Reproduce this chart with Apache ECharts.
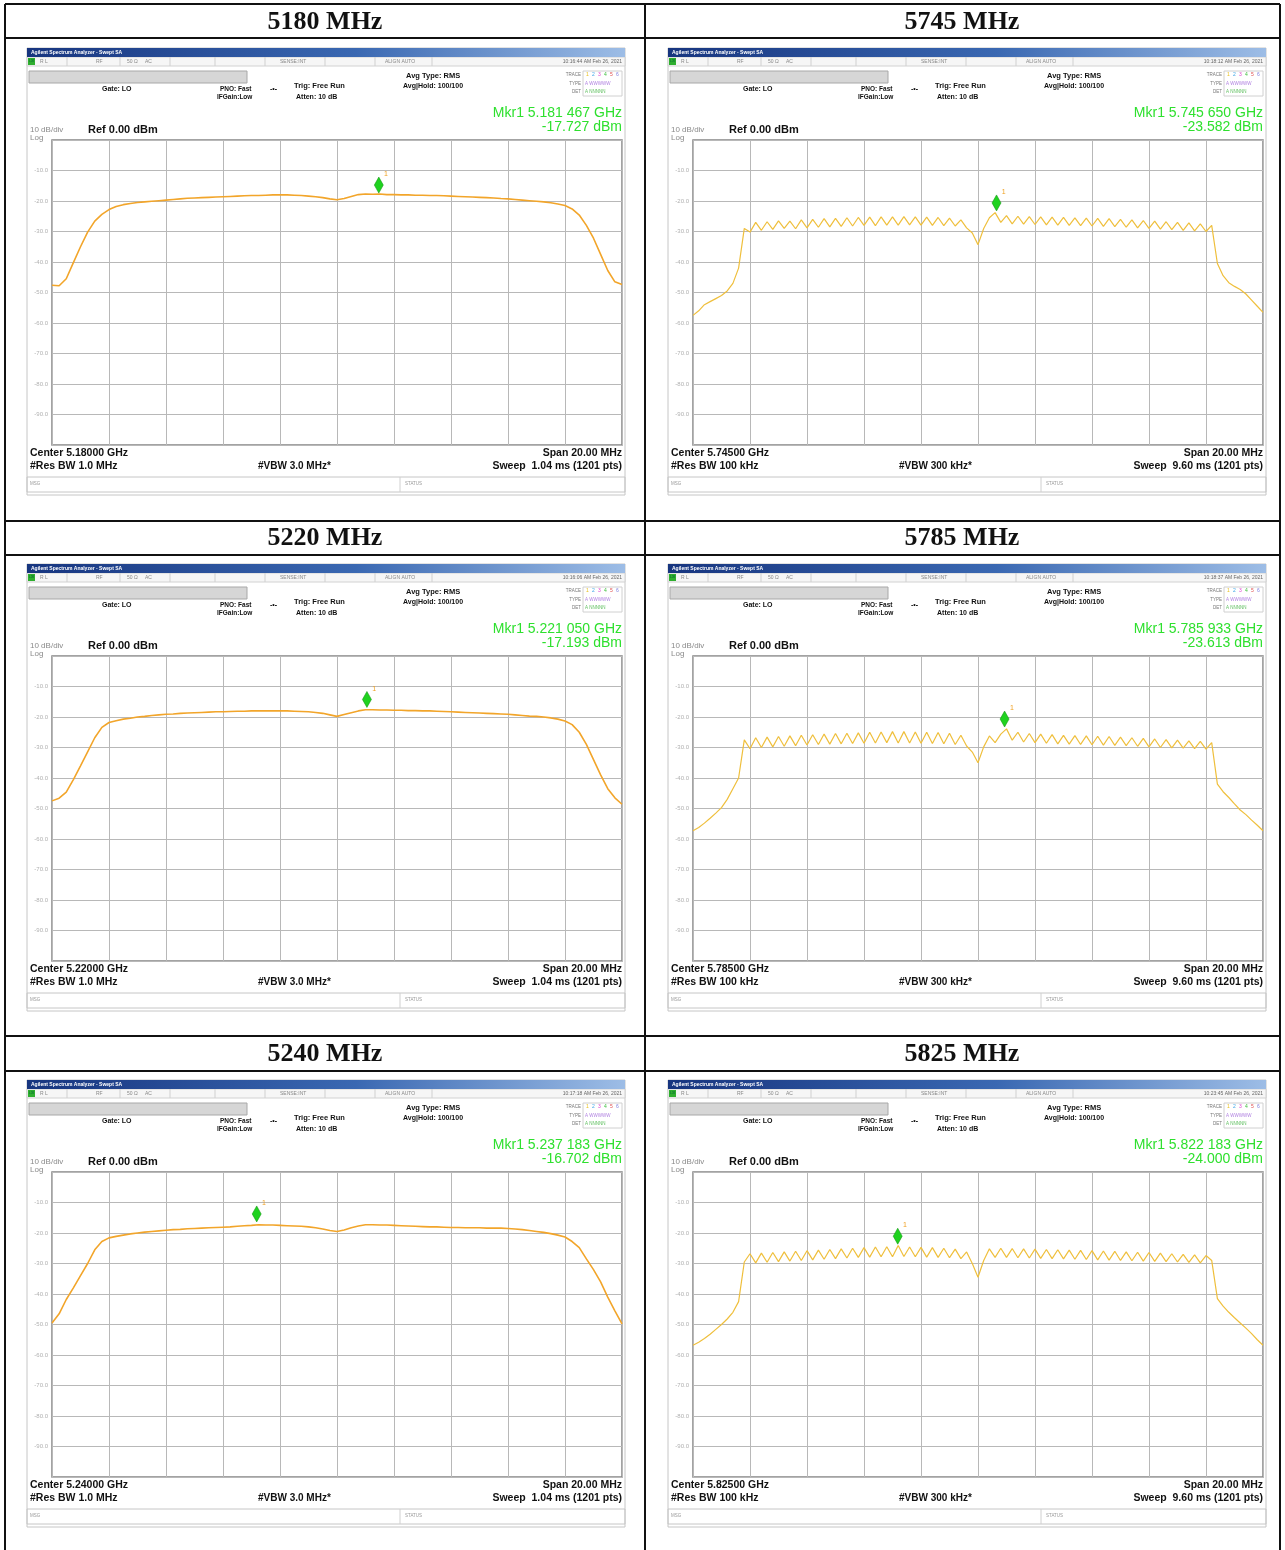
<!DOCTYPE html>
<html>
<head>
<meta charset="utf-8">
<script src="https://cdn.jsdelivr.net/npm/echarts@6.0.0/dist/echarts.min.js"></script>
<style>
html, body { margin: 0; padding: 0; background: #fff; }
#chart { width: 1285px; height: 1550px; }
</style>
</head>
<body>
<div id="chart"></div>
<script>
// sweep offsets from centre frequency, MHz
var freqSmooth = [-10, -9.75, -9.5, -9.25, -9, -8.75, -8.5, -8.25, -8, -7.75,
    -7.5, -7.25, -7, -6.75, -6.5, -6.25, -6, -5.75, -5.5, -5.25,
    -5, -4.75, -4.5, -4.25, -4, -3.75, -3.5, -3.25, -3, -2.75,
    -2.5, -2.25, -2, -1.75, -1.5, -1.25, -1, -0.75, -0.5, -0.25,
    0, 0.25, 0.5, 0.75, 1, 1.25, 1.5, 1.75, 2, 2.25,
    2.5, 2.75, 3, 3.25, 3.5, 3.75, 4, 4.25, 4.5, 4.75,
    5, 5.25, 5.5, 5.75, 6, 6.25, 6.5, 6.75, 7, 7.25,
    7.5, 7.75, 8, 8.25, 8.5, 8.75, 9, 9.25, 9.5, 9.75,
    10]

var freqRipple = [-10, -9.8, -9.6, -9.4, -9.2, -9, -8.8, -8.6, -8.4, -8.2,
    -8, -7.8, -7.6, -7.4, -7.2, -7, -6.8, -6.6, -6.4, -6.2,
    -6, -5.8, -5.6, -5.4, -5.2, -5, -4.8, -4.6, -4.4, -4.2,
    -4, -3.8, -3.6, -3.4, -3.2, -3, -2.8, -2.6, -2.4, -2.2,
    -2, -1.8, -1.6, -1.4, -1.2, -1, -0.8, -0.6, -0.4, -0.2,
    0, 0.2, 0.4, 0.6, 0.8, 1, 1.2, 1.4, 1.6, 1.8,
    2, 2.2, 2.4, 2.6, 2.8, 3, 3.2, 3.4, 3.6, 3.8,
    4, 4.2, 4.4, 4.6, 4.8, 5, 5.2, 5.4, 5.6, 5.8,
    6, 6.2, 6.4, 6.6, 6.8, 7, 7.2, 7.4, 7.6, 7.8,
    8, 8.2, 8.4, 8.6, 8.8, 9, 9.2, 9.4, 9.6, 9.8,
    10]

// traces, dBm
var trace5180 = [-47.6, -47.8, -45.5, -40.2, -35.0, -30.2, -26.6, -24.4, -22.8, -21.8,
    -21.2, -20.8, -20.5, -20.3, -20.1, -19.9, -19.7, -19.5, -19.3, -19.1,
    -19.0, -18.9, -18.8, -18.7, -18.6, -18.5, -18.4, -18.3, -18.2, -18.2,
    -18.1, -18.0, -18.0, -18.0, -18.1, -18.2, -18.4, -18.6, -18.9, -19.3,
    -19.6, -19.2, -18.5, -17.9, -17.7, -17.8, -17.7, -17.9, -17.9, -18.0,
    -18.0, -18.1, -18.1, -18.2, -18.2, -18.3, -18.4, -18.5, -18.6, -18.7,
    -18.8, -18.9, -19.0, -19.2, -19.3, -19.5, -19.7, -19.9, -20.1, -20.3,
    -20.6, -21.0, -21.5, -22.6, -24.6, -28.0, -32.2, -37.5, -42.8, -46.5,
    -47.4]

var trace5220 = [-47.5, -46.6, -44.6, -40.5, -36.0, -31.4, -26.8, -23.4, -21.8, -21.2,
    -20.7, -20.4, -20.0, -19.8, -19.5, -19.3, -19.1, -19.0, -18.8, -18.7,
    -18.6, -18.5, -18.4, -18.3, -18.3, -18.2, -18.1, -18.1, -18.0, -18.0,
    -18.0, -18.0, -18.0, -18.0, -18.1, -18.2, -18.3, -18.5, -18.8, -19.3,
    -19.8, -19.2, -18.6, -18.0, -17.6, -17.6, -17.7, -17.7, -17.8, -17.8,
    -17.9, -17.9, -18.0, -18.0, -18.1, -18.2, -18.3, -18.4, -18.5, -18.6,
    -18.7, -18.8, -18.9, -19.0, -19.1, -19.3, -19.5, -19.7, -19.8, -20.0,
    -20.3, -20.7, -21.3, -22.5, -25.0, -29.0, -34.0, -39.0, -43.5, -46.5,
    -48.6]

var trace5240 = [-49.5, -46.5, -41.8, -38.0, -34.0, -30.0, -25.5, -22.8, -21.6, -21.1,
    -20.7, -20.3, -20.0, -19.7, -19.5, -19.3, -19.1, -18.9, -18.8, -18.6,
    -18.5, -18.4, -18.3, -18.2, -18.1, -18.0, -17.8, -17.6, -17.5, -17.3,
    -17.4, -17.4, -17.5, -17.6, -17.7, -17.8, -18.0, -18.3, -18.7, -19.2,
    -19.5, -19.0, -18.3, -17.7, -17.3, -17.3, -17.4, -17.4, -17.5, -17.6,
    -17.7, -17.8, -17.9, -18.0, -18.0, -18.1, -18.2, -18.2, -18.3, -18.3,
    -18.3, -18.4, -18.4, -18.4, -18.5, -18.7, -18.9, -19.2, -19.5, -19.8,
    -20.2, -20.7, -21.3, -22.8, -24.8, -28.5, -32.0, -36.0, -41.0, -45.5,
    -49.8]

var trace5745 = [-57.5, -56.0, -54.0, -53.0, -52.0, -51.0, -49.5, -47.0, -42.0, -29.0,
    -30.2, -27.0, -29.6, -26.8, -29.3, -26.5, -29.0, -26.6, -29.1, -26.2,
    -28.8, -26.0, -28.6, -25.8, -28.5, -25.7, -28.3, -25.5, -28.2, -25.4,
    -28.0, -25.3, -28.1, -25.2, -27.9, -25.2, -27.9, -25.1, -27.8, -25.2,
    -27.9, -25.3, -28.0, -25.4, -28.1, -25.6, -28.2, -26.2, -28.8, -30.5,
    -34.3, -29.0, -25.5, -23.8, -27.0, -24.8, -27.5, -25.0, -27.6, -25.1,
    -27.7, -25.2, -27.8, -25.3, -27.9, -25.4, -28.0, -25.5, -28.1, -25.6,
    -28.2, -25.7, -28.3, -25.8, -28.4, -26.0, -28.6, -26.2, -28.8, -26.4,
    -29.0, -26.6, -29.2, -26.8, -29.4, -27.0, -29.6, -27.2, -29.8, -27.5,
    -30.0, -28.0, -40.5, -44.5, -46.8, -48.0, -49.0, -50.5, -52.5, -54.5,
    -56.5]

var trace5785 = [-57.3, -56.2, -54.8, -53.2, -51.5, -49.7, -47.0, -43.5, -40.0, -27.5,
    -30.4, -26.8, -30.0, -26.6, -29.8, -26.4, -29.6, -26.2, -29.4, -26.0,
    -29.2, -25.8, -29.0, -25.6, -28.9, -25.4, -28.8, -25.3, -28.7, -25.2,
    -28.6, -25.0, -28.5, -24.9, -28.4, -24.8, -28.5, -24.8, -28.5, -24.9,
    -28.6, -25.0, -28.7, -25.1, -28.8, -25.3, -29.0, -26.0, -29.5, -31.5,
    -35.0, -29.8, -26.2, -28.4, -25.6, -23.9, -27.6, -25.0, -28.2, -25.4,
    -28.4, -25.6, -28.6, -25.8, -28.8, -26.0, -28.9, -26.1, -29.0, -26.2,
    -29.1, -26.3, -29.2, -26.4, -29.3, -26.6, -29.4, -26.8, -29.6, -27.0,
    -29.8, -27.2, -30.0, -27.4, -30.1, -27.6, -30.2, -27.8, -30.4, -28.0,
    -30.5, -28.4, -42.0, -44.5, -46.4, -48.5, -50.5, -52.0, -53.8, -55.5,
    -57.3]

var trace5825 = [-56.8, -55.8, -54.6, -53.2, -51.6, -50.0, -48.2, -46.0, -42.5, -29.5,
    -26.8, -29.8, -26.6, -29.6, -26.4, -29.4, -26.2, -29.2, -26.0, -29.0,
    -25.8, -28.8, -25.6, -28.6, -25.4, -28.4, -25.2, -28.2, -25.0, -28.0,
    -24.8, -27.9, -24.6, -27.8, -24.5, -27.8, -24.1, -27.7, -24.6, -27.8,
    -24.7, -27.9, -24.8, -28.0, -25.0, -28.1, -25.3, -28.4, -26.2, -30.0,
    -34.5, -29.0, -25.2, -28.0, -25.0, -28.0, -25.1, -28.1, -25.2, -28.2,
    -25.3, -28.3, -25.4, -28.4, -25.5, -28.5, -25.6, -28.6, -25.7, -28.7,
    -25.8, -28.8, -25.9, -28.9, -26.0, -29.0, -26.2, -29.1, -26.3, -29.2,
    -26.4, -29.3, -26.6, -29.4, -26.8, -29.5, -27.0, -29.6, -27.2, -29.8,
    -27.4, -29.0, -41.5, -44.0, -46.0, -47.8, -49.5, -51.2, -53.0, -55.0,
    -56.8]

// marker 1 of each plot: offset from centre (MHz) and level (dBm)
var markerOffset = [1.467, 0.650, 1.050, 0.933, -2.817, -2.817]
var markerLevel = [-17.727, -23.582, -17.193, -23.613, -16.702, -24.000]

var titles = ['5180 MHz', '5745 MHz', '5220 MHz', '5785 MHz', '5240 MHz', '5825 MHz']
var mkrFreqText = ['5.181 467 GHz', '5.745 650 GHz', '5.221 050 GHz', '5.785 933 GHz', '5.237 183 GHz', '5.822 183 GHz']
var centerText = ['5.18000 GHz', '5.74500 GHz', '5.22000 GHz', '5.78500 GHz', '5.24000 GHz', '5.82500 GHz']
var clockText = ['10:16:44 AM Feb 26, 2021', '10:18:12 AM Feb 26, 2021', '10:16:06 AM Feb 26, 2021',
    '10:18:37 AM Feb 26, 2021', '10:17:18 AM Feb 26, 2021', '10:23:45 AM Feb 26, 2021']

var traces = [trace5180, trace5745, trace5220, trace5785, trace5240, trace5825]
var freqs = [freqSmooth, freqRipple, freqSmooth, freqRipple, freqSmooth, freqRipple]

var colDx = [0, 641]
var rowDy = [0, 516, 1032]
var colCenter = [325, 962]

var chart = echarts.init(document.getElementById('chart'))

function txt(x, y, s, o) {
    o = o || {}
    return {
        type: 'text', silent: true, z: 10,
        style: {
            x: x, y: y, text: s,
            fill: o.color || '#111',
            fontSize: o.size || 8,
            fontWeight: o.bold ? 'bold' : 'normal',
            fontFamily: o.family || '"Liberation Sans", Arial, sans-serif',
            align: o.align || 'left', textAlign: o.align || 'left',
            verticalAlign: 'middle', textVerticalAlign: 'middle'
        }
    }
}

function box(x, y, w, h, fill, stroke) {
    return {
        type: 'rect', silent: true, z: 1,
        shape: { x: x, y: y, width: w, height: h },
        style: { fill: fill || 'none', stroke: stroke || 'none', lineWidth: 1 }
    }
}

function seg(x1, y1, x2, y2, color, w) {
    return {
        type: 'line', silent: true, z: 5,
        shape: { x1: x1, y1: y1, x2: x2, y2: y2 },
        style: { stroke: color, lineWidth: w }
    }
}

// analyser screen furniture around each plot
function chrome(i, dx, dy) {
    var wide = i % 2 === 0
    var g = []
    var X = function (x) { return x + dx }
    var Y = function (y) { return y + dy }
    g.push(box(X(27), Y(48), 598, 447, null, '#c6c6c6'))
    g.push({
        type: 'rect', silent: true, z: 2,
        shape: { x: X(27), y: Y(48), width: 598, height: 9 },
        style: {
            fill: new echarts.graphic.LinearGradient(0, 0, 1, 0, [
                { offset: 0, color: '#17357f' }, { offset: 0.55, color: '#3a68b2' }, { offset: 1, color: '#9dbde6' }
            ])
        }
    })
    g.push(txt(X(31), Y(52.5), 'Agilent Spectrum Analyzer - Swept SA', { color: '#fff', size: 5, bold: true }))
    g.push(box(X(27), Y(57), 598, 9, '#f6f6f6', '#d2d2d2'))
    g.push(box(X(28), Y(58), 7, 7, '#2fae2f', null))
    g.push(txt(X(29), Y(61.5), 'LXI', { color: '#063', size: 3.5 }))
    var status = [[40, 'R L'], [96, 'RF'], [127, '50 \u03a9'], [145, 'AC'], [280, 'SENSE:INT'], [385, 'ALIGN AUTO']]
    status.forEach(function (s) { g.push(txt(X(s[0]), Y(61.5), s[1], { color: '#888', size: 5 })) })
    ;[67, 120, 170, 215, 265, 325, 375, 432].forEach(function (x) { g.push(seg(X(x), Y(57), X(x), Y(66), '#d0d0d0', 1)) })
    g.push(txt(X(622), Y(61.5), clockText[i], { color: '#666', size: 5, align: 'right' }))
    g.push(box(X(29), Y(71), 218, 12, '#d6d6d6', '#a8a8a8'))
    g.push(txt(X(102), Y(89), 'Gate: LO', { bold: true, size: 7 }))
    g.push(txt(X(220), Y(89), 'PNO: Fast', { bold: true, size: 6.5 }))
    g.push(txt(X(217), Y(97), 'IFGain:Low', { bold: true, size: 6.5 }))
    g.push(txt(X(270), Y(89), '-\u2022-', { bold: true, size: 7 }))
    g.push(txt(X(294), Y(86), 'Trig: Free Run', { bold: true, size: 7.5 }))
    g.push(txt(X(296), Y(97), 'Atten: 10 dB', { bold: true, size: 7 }))
    g.push(txt(X(406), Y(76), 'Avg Type: RMS', { bold: true, size: 7.5 }))
    g.push(txt(X(403), Y(86), 'Avg|Hold: 100/100', { bold: true, size: 7 }))
    g.push(txt(X(581), Y(75), 'TRACE', { color: '#777', size: 4.5, align: 'right' }))
    g.push(txt(X(581), Y(84), 'TYPE', { color: '#777', size: 4.5, align: 'right' }))
    g.push(txt(X(581), Y(92), 'DET', { color: '#777', size: 4.5, align: 'right' }))
    g.push(box(X(583), Y(71), 39, 25, null, '#d0d0d0'))
    var digitColors = ['#e8c020', '#40a8e8', '#e040d0', '#40c040', '#e05050', '#8080e0']
    digitColors.forEach(function (c, k) { g.push(txt(X(586 + k * 6), Y(75), String(k + 1), { color: c, size: 5 })) })
    g.push(txt(X(585), Y(84), 'A WWWWW', { color: '#b080e0', size: 4.5 }))
    g.push(txt(X(585), Y(92), 'A NNNNN', { color: '#60c060', size: 4.5 }))
    g.push(txt(X(622), Y(113), 'Mkr1 ' + mkrFreqText[i], { color: '#2ee02e', size: 14, align: 'right' }))
    g.push(txt(X(622), Y(127), markerLevel[i].toFixed(3) + ' dBm', { color: '#2ee02e', size: 14, align: 'right' }))
    g.push(txt(X(30), Y(130), '10 dB/div', { color: '#8a8a8a', size: 8 }))
    g.push(txt(X(30), Y(137.5), 'Log', { color: '#8a8a8a', size: 8 }))
    g.push(txt(X(88), Y(130), 'Ref 0.00 dBm', { bold: true, size: 11 }))
    g.push(txt(X(30), Y(453), 'Center ' + centerText[i], { bold: true, size: 10.5 }))
    g.push(txt(X(30), Y(466), wide ? '#Res BW 1.0 MHz' : '#Res BW 100 kHz', { bold: true, size: 10.5 }))
    g.push(txt(X(258), Y(466), wide ? '#VBW 3.0 MHz*' : '#VBW 300 kHz*', { bold: true, size: 10 }))
    g.push(txt(X(622), Y(453), 'Span 20.00 MHz', { bold: true, size: 10.5, align: 'right' }))
    g.push(txt(X(622), Y(466), wide ? 'Sweep  1.04 ms (1201 pts)' : 'Sweep  9.60 ms (1201 pts)', { bold: true, size: 10.5, align: 'right' }))
    g.push(box(X(27), Y(477), 598, 15, null, '#c6c6c6'))
    g.push(seg(X(400), Y(477), X(400), Y(492), '#d0d0d0', 1))
    g.push(txt(X(30), Y(484), 'MSG', { color: '#999', size: 4.5 }))
    g.push(txt(X(405), Y(484), 'STATUS', { color: '#999', size: 4.5 }))
    g.push(txt(colCenter[i % 2], Y(22), titles[i], {
        bold: true, size: 26, align: 'center', family: '"Liberation Serif", "Times New Roman", serif'
    }))
    return g
}

var grids = [], xAxes = [], yAxes = [], series = [], graphics = []

for (var i = 0; i < 6; i++) {
    var dx = colDx[i % 2], dy = rowDy[Math.floor(i / 2)]
    grids.push({
        left: 52 + dx, top: 140 + dy, width: 570, height: 305,
        show: true, borderColor: '#858585', borderWidth: 1.5, backgroundColor: 'transparent'
    })
    xAxes.push({
        type: 'value', gridIndex: i, min: -10, max: 10, interval: 2,
        axisLine: { show: false }, axisTick: { show: false }, axisLabel: { show: false },
        splitLine: { show: true, lineStyle: { color: '#b8b8b8', width: 1 } }
    })
    yAxes.push({
        type: 'value', gridIndex: i, min: -100, max: 0, interval: 10,
        axisLine: { show: false }, axisTick: { show: false },
        axisLabel: {
            show: true, margin: 4, fontSize: 6, color: '#b0b0b0',
            fontFamily: '"Liberation Sans", Arial, sans-serif',
            formatter: function (v) { return (v === 0 || v === -100) ? '' : v.toFixed(1) }
        },
        splitLine: { show: true, lineStyle: { color: '#b8b8b8', width: 1 } }
    })
    var f = freqs[i], tr = traces[i]
    series.push({
        type: 'line', xAxisIndex: i, yAxisIndex: i,
        data: f.map(function (x, k) { return [x, tr[k]] }),
        showSymbol: false, smooth: false,
        lineStyle: { color: i % 2 === 0 ? '#f2a52a' : '#efbf3c', width: i % 2 === 0 ? 1.6 : 1.2 },
        markPoint: {
            symbol: 'diamond', symbolSize: [9, 16], symbolOffset: [0, -9],
            itemStyle: { color: '#1fd21f', borderColor: '#0d8f0d', borderWidth: 0.5 },
            label: { show: true, formatter: '1', position: [10, -6], color: '#f0a020', fontSize: 7 },
            data: [{ coord: [markerOffset[i], markerLevel[i]] }]
        }
    })
    graphics = graphics.concat(chrome(i, dx, dy))
}

// table ruling
var rule = '#111'
graphics.push(seg(5, 4, 1280, 4, rule, 2))
graphics.push(seg(5, 4, 5, 1550, rule, 2))
graphics.push(seg(645, 4, 645, 1550, rule, 2))
graphics.push(seg(1280, 4, 1280, 1550, rule, 2))
;[38, 521, 555, 1036, 1071].forEach(function (y) { graphics.push(seg(5, y, 1280, y, rule, 2)) })

var option = {
    animation: false,
    backgroundColor: '#fff',
    grid: grids,
    xAxis: xAxes,
    yAxis: yAxes,
    series: series,
    graphic: { elements: graphics }
}

chart.setOption(option)
</script>
</body>
</html>
